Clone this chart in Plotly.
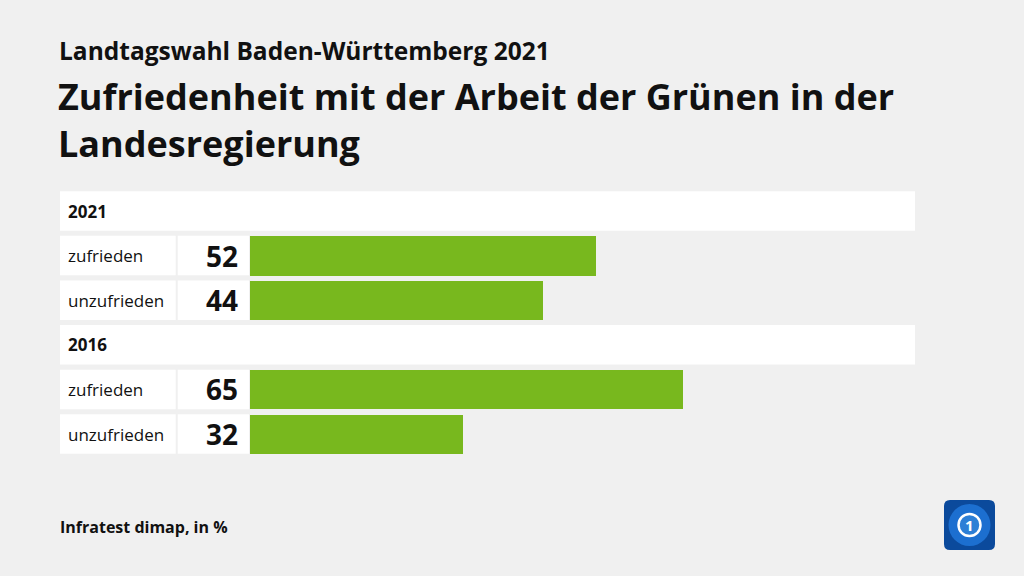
import plotly.graph_objects as go

# ---- data ----
groups = ["2021", "2016"]
categories = ["zufrieden", "unzufrieden"]
values_2021 = [52, 44]
values_2016 = [65, 32]
subtitle = "Landtagswahl Baden-Württemberg 2021"
title = "Zufriedenheit mit der Arbeit der Grünen in der<br>Landesregierung"
source = "Infratest dimap, in %"

W, H = 1024, 576
BG = "#f0f0f0"
GREEN = "#78b81e"
FONT = "Open Sans"

# build row list
rows = []  # (kind, label, value)
for g, vals in zip(groups, [values_2021, values_2016]):
    rows.append(("header", g, None))
    for c, v in zip(categories, vals):
        rows.append(("bar", c, v))

n = len(rows)
bar_idx = [i for i, r in enumerate(rows) if r[0] == "bar"]
bar_vals = [rows[i][2] for i in bar_idx]

fig = go.Figure()
fig.add_trace(go.Bar(
    x=bar_vals, y=bar_idx, orientation="h",
    marker=dict(color=GREEN, line=dict(width=0)),
    width=0.885, hoverinfo="skip", showlegend=False,
))

def px(x):
    return x / W

def py(y):
    return 1 - y / H

half = 0.443
shapes = []
annotations = []
for i, (kind, label, val) in enumerate(rows):
    if kind == "header":
        shapes.append(dict(type="rect", xref="paper", yref="y", x0=px(60), x1=px(915),
                           y0=i - half, y1=i + half, fillcolor="white", line=dict(width=0), layer="below"))
        annotations.append(dict(xref="paper", yref="y", x=px(66), y=i, text=f"<b>{label}</b>",
                                showarrow=False, xanchor="left", yanchor="middle",
                                font=dict(family=FONT, size=17, color="#111")))
    else:
        shapes.append(dict(type="rect", xref="paper", yref="y", x0=px(60), x1=px(175.7),
                           y0=i - half, y1=i + half, fillcolor="white", line=dict(width=0), layer="below"))
        shapes.append(dict(type="rect", xref="paper", yref="y", x0=px(177.7), x1=px(249),
                           y0=i - half, y1=i + half, fillcolor="white", line=dict(width=0), layer="below"))
        annotations.append(dict(xref="paper", yref="y", x=px(66), y=i, text=label,
                                showarrow=False, xanchor="left", yanchor="middle",
                                font=dict(family=FONT, size=17, color="#111", weight=500)))
        annotations.append(dict(xref="paper", yref="y", x=px(240), y=i, text=f"<b>{val}</b>",
                                showarrow=False, xanchor="right", yanchor="middle",
                                font=dict(family=FONT, size=28, color="#111")))

# titles
annotations.append(dict(xref="paper", yref="paper", x=px(57), y=py(51), text=f"<b>{subtitle}</b>",
                        showarrow=False, xanchor="left", yanchor="middle",
                        font=dict(family=FONT, size=24.5, color="#111")))
annotations.append(dict(xref="paper", yref="paper", x=px(56), y=py(120), text=f"<b>{title}</b>",
                        showarrow=False, xanchor="left", yanchor="middle", align="left",
                        font=dict(family=FONT, size=36, color="#111")))
annotations.append(dict(xref="paper", yref="paper", x=px(58), y=py(527), text=f"<b>{source}</b>",
                        showarrow=False, xanchor="left", yanchor="middle",
                        font=dict(family=FONT, size=16, color="#111")))

# logo
lx0, lx1, ly0, ly1 = 944, 995, 500, 550
r = 6
path = (f"M {px(lx0+r)} {py(ly0)} L {px(lx1-r)} {py(ly0)} Q {px(lx1)} {py(ly0)} {px(lx1)} {py(ly0+r)} "
        f"L {px(lx1)} {py(ly1-r)} Q {px(lx1)} {py(ly1)} {px(lx1-r)} {py(ly1)} "
        f"L {px(lx0+r)} {py(ly1)} Q {px(lx0)} {py(ly1)} {px(lx0)} {py(ly1-r)} "
        f"L {px(lx0)} {py(ly0+r)} Q {px(lx0)} {py(ly0)} {px(lx0+r)} {py(ly0)} Z")
shapes.append(dict(type="path", xref="paper", yref="paper", path=path, fillcolor="#0b4a9c", line=dict(width=0)))
cx, cy = 969.5, 525
shapes.append(dict(type="circle", xref="paper", yref="paper", x0=px(cx-21), x1=px(cx+21),
                   y0=py(cy+21), y1=py(cy-21), fillcolor="#1c6fd0", line=dict(width=0)))
shapes.append(dict(type="circle", xref="paper", yref="paper", x0=px(cx-11), x1=px(cx+11),
                   y0=py(cy+11), y1=py(cy-11), fillcolor="#2d7fd6", line=dict(color="white", width=2.5)))
annotations.append(dict(xref="paper", yref="paper", x=px(cx), y=py(cy), text="<b>1</b>",
                        showarrow=False, xanchor="center", yanchor="middle",
                        font=dict(family=FONT, size=15, color="white")))

top_px = 211 - 22.3
bot_px = 211 + 44.6 * (n - 1) + 22.3
fig.update_layout(
    width=W, height=H, margin=dict(l=0, r=0, t=0, b=0),
    paper_bgcolor=BG, plot_bgcolor="rgba(0,0,0,0)",
    xaxis=dict(domain=[px(250), px(916)], range=[0, 100], visible=False, fixedrange=True),
    yaxis=dict(domain=[py(bot_px), py(top_px)], range=[n - 0.5, -0.5], visible=False, fixedrange=True),
    shapes=shapes, annotations=annotations, bargap=0,
)
fig.write_html(
    "out.html",
    config={"displayModeBar": False},
    post_script="document.body.style.margin='0';document.body.style.background='#f0f0f0';",
)
